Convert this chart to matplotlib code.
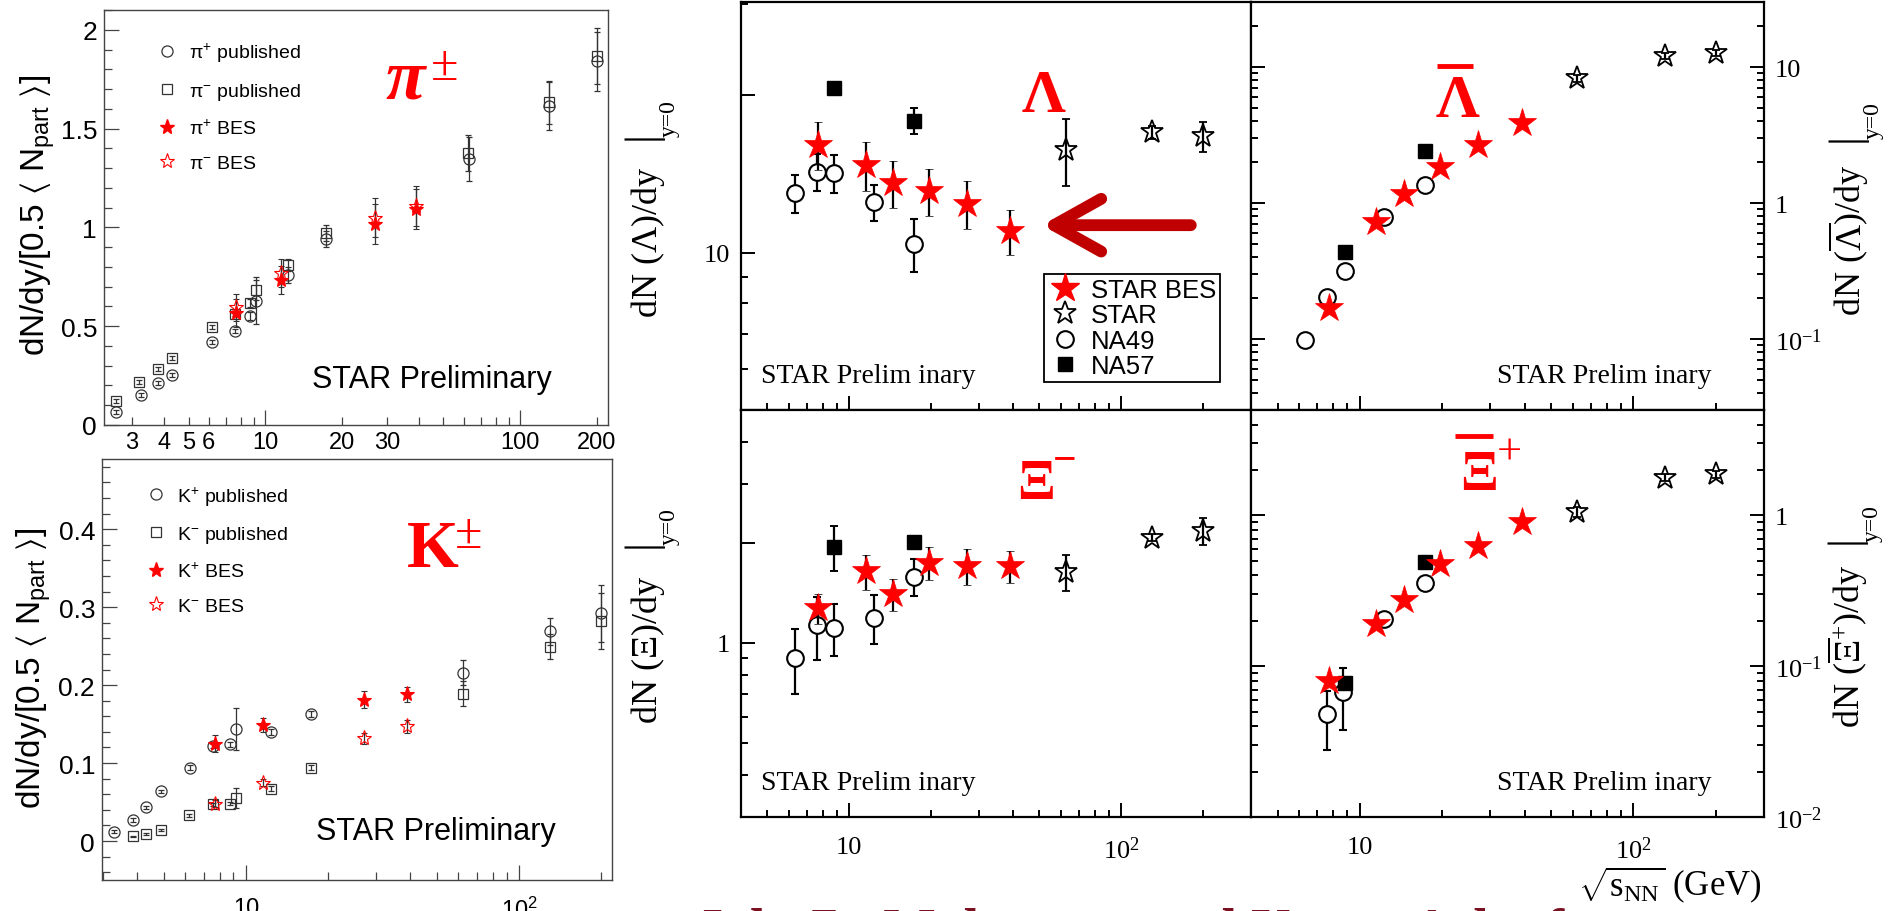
"""Energy dependence of identified particle yields: pi/K (left) and strange baryons (right)"""
import numpy as np
import matplotlib
matplotlib.use('Agg')
import matplotlib.pyplot as plt
from matplotlib.lines import Line2D
from matplotlib.patches import FancyArrowPatch

SANS = 'Liberation Sans'
SERIF = 'Liberation Serif'
plt.rcParams['font.family'] = SERIF
plt.rcParams['mathtext.default'] = 'regular'
plt.rcParams['mathtext.fontset'] = 'custom'
plt.rcParams['mathtext.rm'] = SERIF
plt.rcParams['mathtext.it'] = SERIF + ':italic'
plt.rcParams['mathtext.bf'] = SERIF + ':bold'
plt.rcParams['mathtext.sf'] = SANS

# ---- pions, dN/dy / (0.5 Npart) ----
pip_pub_x = [2.6, 3.25, 3.8, 4.3, 6.2, 7.6, 8.7, 9.2, 12.3, 17.3, 62.7, 130, 200]
pip_pub_y = [0.064, 0.152, 0.212, 0.254, 0.421, 0.474, 0.553, 0.629, 0.759, 0.941, 1.346, 1.615, 1.84]
pip_pub_e = [0.01, 0.01, 0.01, 0.01, 0.01, 0.01, 0.02, 0.12, 0.04, 0.04, 0.11, 0.12, 0.15]
pim_pub_x = [2.6, 3.2, 3.8, 4.3, 6.2, 7.6, 8.7, 9.2, 12.3, 17.3, 62.4, 130, 200]
pim_pub_y = [0.12, 0.219, 0.283, 0.34, 0.494, 0.561, 0.617, 0.683, 0.811, 0.971, 1.376, 1.632, 1.868]
pim_pub_e = [0.01, 0.01, 0.01, 0.01, 0.01, 0.01, 0.02, 0.05, 0.03, 0.04, 0.09, 0.11, 0.14]
bes_pi_x = [7.7, 11.5, 27, 39]
pip_bes_y = [0.567, 0.733, 1.017, 1.093]
pim_bes_y = [0.595, 0.769, 1.05, 1.109]
pi_bes_e = [0.07, 0.07, 0.1, 0.1]

# ---- kaons ----
kp_pub_x = [3.3, 3.85, 4.3, 4.9, 6.25, 7.6, 8.75, 9.2, 12.3, 17.3, 62.5, 130, 200]
kp_pub_y = [0.012, 0.027, 0.043, 0.064, 0.094, 0.122, 0.124, 0.144, 0.140, 0.163, 0.216, 0.269, 0.292]
kp_pub_e = [0.002, 0.002, 0.002, 0.002, 0.003, 0.003, 0.003, 0.027, 0.004, 0.004, 0.016, 0.017, 0.037]
km_pub_x = [3.85, 4.3, 4.9, 6.2, 7.6, 8.75, 9.2, 12.3, 17.3, 62.4, 130, 200]
km_pub_y = [0.006, 0.009, 0.014, 0.033, 0.047, 0.048, 0.055, 0.067, 0.094, 0.189, 0.249, 0.282]
km_pub_e = [0.001, 0.001, 0.001, 0.002, 0.002, 0.002, 0.013, 0.003, 0.003, 0.016, 0.016, 0.036]
bes_k_x = [7.7, 11.5, 27, 39]
kp_bes_y = [0.125, 0.149, 0.181, 0.188]
kp_bes_e = [0.011, 0.009, 0.011, 0.010]
km_bes_y = [0.048, 0.075, 0.132, 0.147]
km_bes_e = [0.004, 0.005, 0.007, 0.008]

# ---- strange baryons at y=0 ----
bes_x = [7.7, 11.5, 14.5, 19.6, 27, 39]
star_x = [62.4, 130, 200]
na49_x = [6.3, 7.6, 8.8, 12.3, 17.3]
na49_xip_x = [7.6, 8.7, 12.3, 17.3]
na57_x = [8.8, 17.3]

lam_bes = [16.1, 14.7, 13.6, 13.1, 12.4, 11.0]
lam_bes_e = [1.7, 1.6, 1.4, 1.35, 1.3, 1.1]
lam_star = [15.7, 17.0, 16.7]
lam_star_e = [2.3, 0.5, 1.1]
lam_na49 = [13.0, 14.3, 14.2, 12.5, 10.4]
lam_na49_e = [1.1, 1.15, 1.2, 1.0, 1.2]
lam_na57 = [20.7, 17.9]
lam_na57_e = [0.3, 1.0]

alam_bes = [0.168, 0.72, 1.16, 1.83, 2.68, 3.87]
alam_bes_e = [0.01, 0.03, 0.05, 0.07, 0.1, 0.15]
alam_star = [8.3, 12.1, 12.8]
alam_star_e = [0.5, 0.7, 0.7]
alam_na49 = [0.098, 0.205, 0.318, 0.79, 1.36]
alam_na49_e = [0.01, 0.02, 0.03, 0.05, 0.08]
alam_na57 = [0.44, 2.40]
alam_na57_e = [0.02, 0.1]

xi_bes = [1.27, 1.64, 1.40, 1.74, 1.70, 1.70]
xi_bes_e = [0.13, 0.2, 0.15, 0.2, 0.21, 0.19]
xi_star = [1.63, 2.07, 2.17]
xi_star_e = [0.2, 0.05, 0.2]
xi_na49 = [0.90, 1.13, 1.11, 1.19, 1.58]
xi_na49_e = [0.2, 0.24, 0.2, 0.2, 0.2]
xi_na57 = [1.94, 2.01]
xi_na57_e = [0.3, 0.05]

axi_bes = [0.080, 0.19, 0.274, 0.476, 0.63, 0.90]
axi_bes_e = [0.005, 0.01, 0.015, 0.02, 0.03, 0.04]
axi_star = [1.05, 1.78, 1.87]
axi_star_e = [0.08, 0.1, 0.1]
axi_na49 = [0.048, 0.0675, 0.205, 0.354]
axi_na49_e = [0.02, 0.03, 0.015, 0.03]
axi_na57 = [0.0775, 0.49]
axi_na57_e = [0.004, 0.02]

W, H = 1894, 912
fig = plt.figure(figsize=(W / 100, H / 100), dpi=100)


def box(l, t, r, b):
    return fig.add_axes([l / W, 1 - b / H, (r - l) / W, (b - t) / H])


GREY = '#333333'


def meson_axes(ax, xlim, ylim):
    ax.set_xscale('log')
    ax.set_xlim(*xlim)
    ax.set_ylim(*ylim)
    for s in ax.spines.values():
        s.set_color('#444444')
        s.set_linewidth(1.0)
    ax.tick_params(which='both', direction='in', top=False, right=False, color='#444444', width=0.9)
    ax.tick_params(which='major', length=11)
    ax.tick_params(which='minor', length=6)


def pub(ax, x, y, e, marker, ms):
    ax.errorbar(x, y, yerr=e, fmt=marker, ms=ms, mfc='none', mec=GREY, mew=0.9,
                ecolor=GREY, elinewidth=0.9, capsize=2)


def bes(ax, x, y, e, filled):
    ax.errorbar(x, y, yerr=e, fmt='*', ms=11, mfc='red' if filled else 'none', mec='red',
                mew=0.8, ecolor=GREY, elinewidth=0.9, capsize=2, zorder=3)


def meson_legend(ax, labels, anchor):
    hs = [Line2D([], [], ls='none', marker='o', ms=8, mfc='none', mec=GREY, mew=0.9),
          Line2D([], [], ls='none', marker='s', ms=7, mfc='none', mec=GREY, mew=0.9),
          Line2D([], [], ls='none', marker='*', ms=11, color='red'),
          Line2D([], [], ls='none', marker='*', ms=11, mfc='none', mec='red', mew=0.8)]
    ax.legend(hs, labels, loc='upper left', bbox_to_anchor=anchor, frameon=False,
              borderpad=0, borderaxespad=0, handlelength=1.0, handletextpad=0.6,
              labelspacing=0.85, prop={'family': SANS, 'size': 14})


# pion panel
ax = box(104, 11, 608, 426)
meson_axes(ax, (2.33, 221), (0, 2.1))
pub(ax, pip_pub_x, pip_pub_y, pip_pub_e, 'o', 8)
pub(ax, pim_pub_x, pim_pub_y, pim_pub_e, 's', 7)
bes(ax, bes_pi_x, pim_bes_y, pi_bes_e, False)
bes(ax, bes_pi_x, pip_bes_y, pi_bes_e, True)
ax.set_xticks([10, 100], ['10', '100'], fontfamily=SANS, fontsize=17)
ax.set_xticks([3, 4, 5, 6, 7, 8, 9, 20, 30, 40, 50, 60, 70, 80, 90, 200],
              ['3', '4', '5', '6', '', '', '', '20', '30', '', '', '', '', '', '', '200'],
              minor=True, fontfamily=SANS, fontsize=17)
ax.set_yticks([0, 0.5, 1, 1.5, 2], ['0', '0.5', '1', '1.5', '2'], fontfamily=SANS, fontsize=19)
ax.set_yticks(np.arange(0, 2.11, 0.1), minor=True)
ax.tick_params(axis='x', which='both', pad=4)
ax.tick_params(axis='y', pad=5)
meson_legend(ax, [r'$\pi^{+}$ published', r'$\pi^{-}$ published', r'$\pi^{+}$ BES', r'$\pi^{-}$ BES'],
             (0.106, 0.925))
ax.text(0.558, 0.79, 'π', transform=ax.transAxes, color='red', fontsize=52,
        fontweight='bold', fontstyle='italic', fontfamily=SERIF)
ax.text(0.648, 0.834, '±', transform=ax.transAxes, color='red', fontsize=36, fontfamily=SERIF)
ax.text(0.413, 0.092, 'STAR Preliminary', transform=ax.transAxes, fontsize=22, fontfamily=SANS)
fig.text(38 / W, 1 - 215 / H, r'dN/dy/[0.5 $\langle$ N$_{part}$ $\rangle$]', rotation=90,
         ha='center', va='center', fontsize=24, fontfamily=SANS)

# kaon panel
ax = box(102, 460, 612, 881)
meson_axes(ax, (2.97, 219), (-0.05, 0.49))
pub(ax, kp_pub_x, kp_pub_y, kp_pub_e, 'o', 8)
pub(ax, km_pub_x, km_pub_y, km_pub_e, 's', 7)
bes(ax, bes_k_x, km_bes_y, km_bes_e, False)
bes(ax, bes_k_x, kp_bes_y, kp_bes_e, True)
ax.set_xticks([10, 100], ['10', r'$10^{2}$'], fontfamily=SANS, fontsize=17)
ax.set_xticks([3, 4, 5, 6, 7, 8, 9, 20, 30, 40, 50, 60, 70, 80, 90, 200], minor=True)
ax.set_yticks([0, 0.1, 0.2, 0.3, 0.4], ['0', '0.1', '0.2', '0.3', '0.4'], fontfamily=SANS, fontsize=19)
ax.set_yticks(np.arange(-0.04, 0.49, 0.02), minor=True)
ax.tick_params(axis='x', which='both', pad=12)
ax.tick_params(axis='y', pad=5)
meson_legend(ax, [r'K$^{+}$ published', r'K$^{-}$ published', r'K$^{+}$ BES', r'K$^{-}$ BES'],
             (0.087, 0.94))
ax.text(0.598, 0.746, 'K', transform=ax.transAxes, color='red', fontsize=48,
        fontweight='bold', fontfamily=SERIF)
ax.text(0.692, 0.791, '±', transform=ax.transAxes, color='red', fontsize=36, fontfamily=SERIF)
ax.text(0.42, 0.097, 'STAR Preliminary', transform=ax.transAxes, fontsize=22, fontfamily=SANS)
fig.text(34 / W, 1 - 668 / H, r'dN/dy/[0.5 $\langle$ N$_{part}$ $\rangle$]', rotation=90,
         ha='center', va='center', fontsize=24, fontfamily=SANS)


# strange baryon panels
def baryon_axes(ax, ylim, yticks, ylabels, yminor, right_side, bottom_labels):
    ax.set_xscale('log')
    ax.set_yscale('log')
    ax.set_xlim(4, 300)
    ax.set_ylim(*ylim)
    for s in ax.spines.values():
        s.set_color('black')
        s.set_linewidth(1.6)
    ax.tick_params(which='both', direction='in', top=False, color='black', width=1.4)
    ax.tick_params(which='major', length=10)
    ax.tick_params(which='minor', length=5)
    ax.set_xticks([10, 100], ['10', r'$10^{2}$'], fontsize=19)
    ax.set_xticks([5, 6, 7, 8, 9, 20, 30, 40, 50, 60, 70, 80, 90, 200, 300], minor=True)
    ax.set_xticklabels([], minor=True)
    ax.set_yticks(yticks, ylabels, fontsize=19)
    ax.set_yticks(yminor, minor=True)
    ax.set_yticklabels([], minor=True)
    ax.tick_params(axis='x', which='both', labelbottom=bottom_labels, pad=14)
    if right_side:
        ax.tick_params(axis='y', which='both', left=True, right=True, labelleft=False,
                       labelright=True, pad=8)
    else:
        ax.tick_params(axis='y', which='both', left=True, right=False, pad=8)
    ax.text(0.04 if not right_side else 0.48, 0.068, 'STAR Prelim inary',
            transform=ax.transAxes, fontsize=20, fontfamily=SERIF)


def baryon_points(ax, na49x, na49, na49e, na57, na57e, star, stare, bes_y, bes_e):
    eb = dict(ls='none', ecolor='black', elinewidth=1.6, capsize=3, capthick=1.4)
    ax.errorbar(na49x, na49, yerr=na49e, marker='o', ms=12, mfc='white', mec='black',
                mew=1.5, zorder=2, **eb)
    ax.errorbar(na57_x, na57, yerr=na57e, marker='s', ms=10.5, color='black', zorder=3, **eb)
    ax.errorbar(star_x, star, yerr=stare, marker='*', ms=17, mfc='none', mec='black',
                mew=1.3, zorder=3, **eb)
    ax.errorbar(bes_x, bes_y, yerr=bes_e, marker='*', ms=21, mfc='red', mec='red',
                mew=0.5, zorder=4, **eb)


def minors(decades, lo, hi):
    return [m * d for d in decades for m in range(2, 10) if lo <= m * d <= hi]


def dndy_label(xb, y0, ybar, particle):
    # rotated "dN (X)/dy |_{y=0}" built from three pieces, positions in pixels
    kw = dict(rotation=90, rotation_mode='anchor', fontfamily=SERIF)
    fig.text(xb / W, 1 - y0 / H, 'dN (' + particle + ')/dy', ha='left', va='baseline',
             fontsize=26, **kw)
    fig.text((xb - 3) / W, 1 - ybar / H, '|', ha='center', va='baseline', fontsize=32, **kw)
    fig.text((xb + 18) / W, 1 - (ybar + 2) / H, 'y=0', ha='left', va='baseline',
             fontsize=17, **kw)


# Lambda
ax = box(741, 3, 1251, 411)
baryon_axes(ax, (5, 30.2), [10, 20], ['10', ''], [6, 7, 8, 9, 30], False, False)
baryon_points(ax, na49_x, lam_na49, lam_na49_e, lam_na57, lam_na57_e,
              lam_star, lam_star_e, lam_bes, lam_bes_e)
ax.text(0.551, 0.733, 'Λ', transform=ax.transAxes, color='red', fontsize=44,
        fontweight='bold', fontfamily=SERIF)
arrow = FancyArrowPatch(posA=(0.882, 0.453), posB=(0.590, 0.453), transform=ax.transAxes,
                        arrowstyle='->,head_length=3.4,head_width=1.9', mutation_scale=10,
                        color='#c00000', lw=8.5, shrinkA=0, shrinkB=0,
                        capstyle='round', joinstyle='round', zorder=5)
ax.add_patch(arrow)
legend_handles = [
    Line2D([], [], ls='none', marker='*', ms=21, color='red'),
    Line2D([], [], ls='none', marker='*', ms=17, mfc='none', mec='black', mew=1.3),
    Line2D([], [], ls='none', marker='o', ms=12, mfc='none', mec='black', mew=1.5),
    Line2D([], [], ls='none', marker='s', ms=10.5, color='black')]
leg = ax.legend(legend_handles, ['STAR BES', 'STAR', 'NA49', 'NA57'], loc='upper left',
                bbox_to_anchor=(0.595, 0.333), frameon=True, fancybox=False, edgecolor='black',
                framealpha=1, borderaxespad=0, borderpad=0.15, labelspacing=0.05,
                handlelength=1.3, handletextpad=0.35, prop={'family': SANS, 'size': 18.5})
leg.get_frame().set_linewidth(1.3)
dndy_label(657, 318, 135, r'$\Lambda$')

# anti-Lambda
ax = box(1251, 3, 1764, 411)
baryon_axes(ax, (0.03, 30.2), [0.1, 1, 10], [r'$10^{-1}$', '1', '10'],
            minors([0.01, 0.1, 1, 10], 0.03, 30), True, False)
baryon_points(ax, na49_x, alam_na49, alam_na49_e, alam_na57, alam_na57_e,
              alam_star, alam_star_e, alam_bes, alam_bes_e)
ax.text(0.359, 0.72, 'Λ', transform=ax.transAxes, color='red', fontsize=44,
        fontweight='bold', fontfamily=SERIF)
ax.plot([0.363, 0.433], [0.843, 0.843], transform=ax.transAxes, color='red', lw=3.5,
        solid_capstyle='butt', clip_on=False)
dndy_label(1861, 316, 137, r'$\overline{\Lambda}$')

# Xi-
ax = box(741, 411, 1251, 818)
baryon_axes(ax, (0.3, 5), [1, 2], ['1', ''], [0.4, 0.5, 0.6, 0.7, 0.8, 0.9, 3, 4], False, True)
baryon_points(ax, na49_x, xi_na49, xi_na49_e, xi_na57, xi_na57_e,
              xi_star, xi_star_e, xi_bes, xi_bes_e)
ax.text(0.541, 0.785, 'Ξ', transform=ax.transAxes, color='red', fontsize=40,
        fontweight='bold', fontfamily=SERIF)
ax.text(0.612, 0.876, '−', transform=ax.transAxes, color='red', fontsize=30,
        fontweight='bold', fontfamily=SERIF, va='center')
dndy_label(657, 724, 543, r'$\Xi$')

# anti-Xi+
ax = box(1251, 411, 1764, 818)
baryon_axes(ax, (0.01, 5), [0.01, 0.1, 1], [r'$10^{-2}$', r'$10^{-1}$', '1'],
            minors([0.01, 0.1, 1], 0.01, 5), True, True)
baryon_points(ax, na49_xip_x, axi_na49, axi_na49_e, axi_na57, axi_na57_e,
              axi_star, axi_star_e, axi_bes, axi_bes_e)
ax.text(0.408, 0.805, 'Ξ', transform=ax.transAxes, color='red', fontsize=40,
        fontweight='bold', fontfamily=SERIF)
ax.plot([0.398, 0.472], [0.935, 0.935], transform=ax.transAxes, color='red', lw=3.5,
        solid_capstyle='butt', clip_on=False)
ax.text(0.48, 0.896, '+', transform=ax.transAxes, color='red', fontsize=32,
        fontfamily=SERIF, va='center')
dndy_label(1860, 728, 540, r'$\overline{\Xi}^{+}$')

fig.text(1670 / W, 1 - 885 / H, r'$\sqrt{s_{NN}}$ (GeV)', ha='center', va='center',
         fontsize=25, fontfamily=SERIF)

# slide title running off the bottom edge
fig.text(695 / W, 1 - 948 / H, 'Job  7:  Make sure and Upper Ash of', ha='left', va='baseline',
         fontsize=40, fontweight='bold', fontfamily=SERIF, color='#7b1020')

fig.savefig('out.png', dpi=100)
